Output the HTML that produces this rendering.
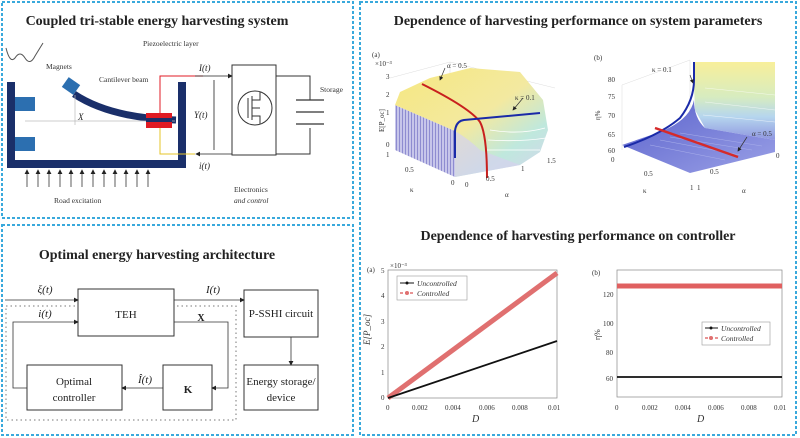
<!DOCTYPE html>
<html><head><meta charset="utf-8"><style>
html,body{margin:0;padding:0;background:#fff;}
svg{display:block;font-family:"Liberation Serif",serif;}
</style></head><body>
<svg width="800" height="438" viewBox="0 0 800 438" xmlns="http://www.w3.org/2000/svg">
<defs>
<marker id="ar" markerWidth="6" markerHeight="6" refX="5" refY="3" orient="auto"><path d="M0,0 L6,3 L0,6 z" fill="#222"/></marker>
<linearGradient id="ya" x1="0" y1="0" x2="1" y2="1"><stop offset="0" stop-color="#f6e880"/><stop offset="0.5" stop-color="#f3e9a0"/><stop offset="0.75" stop-color="#bfe8dd"/><stop offset="1" stop-color="#d6d3ee"/></linearGradient>
<linearGradient id="yb" x1="0" y1="0" x2="0" y2="1"><stop offset="0" stop-color="#f8ef9a"/><stop offset="0.45" stop-color="#d7ecc0"/><stop offset="0.7" stop-color="#b6d6ee"/><stop offset="1" stop-color="#8f96e0"/></linearGradient>
<linearGradient id="fb" x1="0" y1="0" x2="1" y2="1"><stop offset="0" stop-color="#5a62cc"/><stop offset="1" stop-color="#9aa0e6"/></linearGradient>
<pattern id="st" width="3" height="10" patternUnits="userSpaceOnUse"><rect width="3" height="10" fill="#c7c6ea"/><rect width="1" height="10" fill="#8e8cd0"/></pattern>
</defs>
<g fill="none" stroke="#39a9dc" stroke-width="2" stroke-dasharray="3,2">
<rect x="2" y="2" width="351" height="216"/>
<rect x="2" y="225" width="351" height="210"/>
<rect x="360" y="2" width="436" height="433"/>
</g>

<text x="157" y="25" font-size="14" font-weight="bold" text-anchor="middle" fill="#222">Coupled tri-stable energy harvesting system</text>
<path d="M6,48 Q10,64 15,58 Q20,50 25,58 Q30,66 35,56 L43,43" fill="none" stroke="#555" stroke-width="1"/>
<rect x="7" y="82" width="8" height="86" fill="#1a2f6a"/>
<rect x="7" y="160" width="179" height="8" fill="#1a2f6a"/>
<rect x="178" y="82" width="8" height="86" fill="#1a2f6a"/>
<rect x="15" y="97" width="20" height="14" fill="#2c6fb0"/>
<rect x="15" y="137" width="20" height="14" fill="#2c6fb0"/>
<path d="M74,94 Q110,118 176,120" fill="none" stroke="#1a2f6a" stroke-width="7"/>
<rect x="64" y="80" width="14" height="12" fill="#2c6fb0" transform="rotate(35 71 86)"/>
<line x1="25" y1="121" x2="175" y2="121" stroke="#bbb" stroke-width="0.7"/>
<line x1="75" y1="95" x2="75" y2="125" stroke="#bbb" stroke-width="0.7"/>
<rect x="146" y="113" width="26" height="15" fill="#e01b24"/>
<line x1="146" y1="120" x2="172" y2="120" stroke="#1a2f6a" stroke-width="4"/>
<polyline points="160,113 160,76 203,76" fill="none" stroke="#e01b24" stroke-width="1"/>
<polyline points="160,128 160,154 195,154" fill="none" stroke="#e6c42a" stroke-width="1"/>
<line x1="195" y1="76" x2="232" y2="76" stroke="#222" stroke-width="0.8" marker-end="url(#ar)"/>
<line x1="232" y1="154" x2="196" y2="154" stroke="#222" stroke-width="0.8" marker-end="url(#ar)"/>
<line x1="214" y1="80" x2="214" y2="150" stroke="#222" stroke-width="0.8"/>
<rect x="232" y="65" width="44" height="90" fill="none" stroke="#333" stroke-width="1"/>
<circle cx="255" cy="108" r="17" fill="none" stroke="#333" stroke-width="1"/>
<path d="M248,98 v20 M252,96 v24 M252,100 h8 v-8 M252,116 h8 v8 M252,108 h8" fill="none" stroke="#333" stroke-width="1"/>
<polyline points="276,76 310,76 310,100" fill="none" stroke="#333" stroke-width="1"/>
<polyline points="276,154 310,154 310,128" fill="none" stroke="#333" stroke-width="1"/>
<line x1="296" y1="100" x2="324" y2="100" stroke="#333" stroke-width="1.2"/>
<line x1="296" y1="112" x2="324" y2="112" stroke="#333" stroke-width="1.2"/>
<line x1="296" y1="124" x2="324" y2="124" stroke="#333" stroke-width="1.2"/>
<g stroke="#333" stroke-width="0.8">
<line x1="27" y1="187" x2="27" y2="170" marker-end="url(#ar)"/><line x1="38" y1="187" x2="38" y2="170" marker-end="url(#ar)"/><line x1="49" y1="187" x2="49" y2="170" marker-end="url(#ar)"/><line x1="60" y1="187" x2="60" y2="170" marker-end="url(#ar)"/><line x1="71" y1="187" x2="71" y2="170" marker-end="url(#ar)"/><line x1="82" y1="187" x2="82" y2="170" marker-end="url(#ar)"/><line x1="93" y1="187" x2="93" y2="170" marker-end="url(#ar)"/><line x1="104" y1="187" x2="104" y2="170" marker-end="url(#ar)"/><line x1="115" y1="187" x2="115" y2="170" marker-end="url(#ar)"/><line x1="126" y1="187" x2="126" y2="170" marker-end="url(#ar)"/><line x1="137" y1="187" x2="137" y2="170" marker-end="url(#ar)"/><line x1="148" y1="187" x2="148" y2="170" marker-end="url(#ar)"/>
</g>
<g font-size="7.5" fill="#333">
<text x="46" y="69">Magnets</text>
<text x="99" y="82">Cantilever beam</text>
<text x="143" y="46">Piezoelectric layer</text>
<text x="320" y="92">Storage</text>
<text x="54" y="203">Road excitation</text>
<text x="234" y="192">Electronics</text>
<text x="234" y="203" font-style="italic">and control</text>
</g>
<g font-size="9" font-style="italic" fill="#222">
<text x="78" y="120">X</text>
<text x="199" y="71">I(t)</text>
<text x="194" y="118">Y(t)</text>
<text x="199" y="169">i(t)</text>
</g>

<text x="157" y="259" font-size="14" font-weight="bold" text-anchor="middle" fill="#222">Optimal energy harvesting architecture</text>
<rect x="6" y="306" width="230" height="114" fill="none" stroke="#777" stroke-width="1" stroke-dasharray="1.5,3"/>
<g fill="#fff" stroke="#333" stroke-width="1">
<rect x="78" y="289" width="96" height="47"/>
<rect x="27" y="365" width="95" height="45"/>
<rect x="163" y="365" width="49" height="45"/>
<rect x="244" y="290" width="74" height="47"/>
<rect x="244" y="365" width="74" height="45"/>
</g>
<g fill="none" stroke="#333" stroke-width="0.8">
<line x1="5" y1="300" x2="78" y2="300" marker-end="url(#ar)"/>
<polyline points="27,388 13,388 13,322 78,322" marker-end="url(#ar)"/>
<line x1="174" y1="300" x2="244" y2="300" marker-end="url(#ar)"/>
<polyline points="174,322 228,322 228,388 212,388" marker-end="url(#ar)"/>
<line x1="163" y1="388" x2="122" y2="388" marker-end="url(#ar)"/>
<line x1="291" y1="337" x2="291" y2="365" marker-end="url(#ar)"/>
</g>
<g fill="#222" font-size="11" text-anchor="middle">
<text x="126" y="318">TEH</text>
<text x="281" y="317">P-SSHI circuit</text>
<text x="74" y="385">Optimal</text>
<text x="74" y="401">controller</text>
<text x="188" y="393" font-weight="bold">K</text>
<text x="281" y="385">Energy storage/</text>
<text x="281" y="401">device</text>
<text x="201" y="321" font-weight="bold" font-size="10">X</text>
<g font-style="italic" font-size="11"><text x="45" y="293">ξ(t)</text><text x="45" y="317">i(t)</text><text x="213" y="293">I(t)</text><text x="145" y="383">Î(t)</text></g>
</g>

<text x="578" y="25" font-size="14" font-weight="bold" text-anchor="middle" fill="#222">Dependence of harvesting performance on system parameters</text>
<g stroke="#ddd" stroke-width="0.5" fill="none"><line x1="390" y1="78" x2="450" y2="62"/><line x1="450" y1="62" x2="555" y2="88"/><line x1="450" y1="62" x2="450" y2="150"/></g>
<polygon points="395,105 455,131 455,177 395,150" fill="url(#st)"/>
<polygon points="395,105 400,92 430,78 470,68 520,72 543,100 548,130 540,152 520,165 455,177 455,131" fill="url(#ya)"/>
<path d="M455,131 Q470,140 480,150 L520,165 L455,177 z" fill="#d5d2ee" opacity="0.7"/>
<path d="M490,130 Q520,135 545,128 M488,140 Q520,142 546,138 M486,150 Q520,150 540,150" stroke="#fff" stroke-width="0.8" fill="none"/>
<path d="M422,84 Q470,108 480,122 Q487,135 487,178" fill="none" stroke="#c8201e" stroke-width="2"/>
<path d="M455,158 L455,131 Q456,121 464,120 L540,113" fill="none" stroke="#1a2aa8" stroke-width="2"/>
<line x1="445" y1="68" x2="440" y2="80" stroke="#333" stroke-width="0.7" marker-end="url(#ar)"/>
<line x1="523" y1="98" x2="513" y2="110" stroke="#333" stroke-width="0.7" marker-end="url(#ar)"/>
<g font-size="7" fill="#333">
<text x="372" y="57">(a)</text><text x="375" y="66">×10⁻³</text>
<text x="386" y="79">3</text><text x="386" y="97">2</text><text x="386" y="115">1</text><text x="386" y="147">0</text><text x="386" y="157">1</text>
<text x="447" y="68">α = 0.5</text><text x="515" y="100">κ = 0.1</text>
<text x="405" y="172">0.5</text><text x="410" y="192">κ</text><text x="451" y="185">0</text><text x="465" y="187">0</text>
<text x="486" y="181">0.5</text><text x="521" y="171">1</text><text x="547" y="163">1.5</text><text x="505" y="197">α</text>
<text x="384" y="132" transform="rotate(-90 384 132)">E[P_oc]</text>
</g>
<!-- 3D b -->
<g stroke="#ddd" stroke-width="0.5" fill="none"><line x1="622" y1="85" x2="690" y2="60"/><line x1="690" y1="60" x2="690" y2="125"/><line x1="622" y1="85" x2="622" y2="150"/></g>
<polygon points="693,62 775,62 775,140 705,128 695,110" fill="url(#yb)"/>
<path d="M622,145 L690,173 L775,152 L775,140 L705,128 Q694,118 694,100 Q690,120 660,132 Z" fill="url(#fb)"/>
<path d="M660,140 L740,155 M650,145 L725,160 M670,137 L752,150 M680,133 L762,146" stroke="#a8aeea" stroke-width="0.6"/>
<path d="M705,88 L775,95 M705,102 L775,110 M703,115 L775,122" stroke="#fff" stroke-width="0.5" opacity="0.7"/>
<path d="M624,147 Q660,135 680,118 Q694,100 694,80 L694,62" fill="none" stroke="#1a2aa8" stroke-width="2"/>
<line x1="655" y1="128" x2="738" y2="157" stroke="#d52a2a" stroke-width="2.5"/>
<line x1="690" y1="75" x2="693" y2="83" stroke="#333" stroke-width="0.7" marker-end="url(#ar)"/>
<line x1="747" y1="137" x2="738" y2="151" stroke="#333" stroke-width="0.7" marker-end="url(#ar)"/>
<g font-size="7" fill="#333">
<text x="594" y="60">(b)</text>
<text x="608" y="82">80</text><text x="608" y="99">75</text><text x="608" y="118">70</text><text x="608" y="137">65</text><text x="608" y="153">60</text><text x="611" y="162">0</text>
<text x="652" y="72">κ = 0.1</text><text x="752" y="136">α = 0.5</text>
<text x="644" y="176">0.5</text><text x="690" y="190">1</text><text x="697" y="190">1</text><text x="643" y="193">κ</text>
<text x="710" y="174">0.5</text><text x="776" y="158">0</text><text x="742" y="193">α</text>
<text x="600" y="120" transform="rotate(-90 600 120)">η%</text>
</g>

<text x="578" y="240" font-size="14" font-weight="bold" text-anchor="middle" fill="#222">Dependence of harvesting performance on controller</text>
<rect x="388" y="270" width="169" height="128" fill="#fff" stroke="#888" stroke-width="0.7"/>
<line x1="388" y1="398" x2="557" y2="273" stroke="#e07070" stroke-width="5"/>
<line x1="388" y1="398" x2="557" y2="341" stroke="#111" stroke-width="1.8"/>
<rect x="397" y="276" width="70" height="24" fill="#fff" stroke="#999" stroke-width="0.6"/>
<line x1="400" y1="283" x2="414" y2="283" stroke="#111" stroke-width="1"/><circle cx="407" cy="283" r="1.5" fill="#111"/>
<line x1="400" y1="293" x2="414" y2="293" stroke="#e07070" stroke-width="1.5" stroke-dasharray="3,2"/><circle cx="407" cy="293" r="2" fill="#e07070"/>
<g font-size="7.5" fill="#333" font-style="italic"><text x="417" y="286">Uncontrolled</text><text x="417" y="296">Controlled</text></g>
<g font-size="7" fill="#333">
<text x="367" y="272">(a)</text><text x="381" y="273">5</text><text x="381" y="298">4</text><text x="381" y="324">3</text><text x="381" y="349">2</text><text x="381" y="375">1</text><text x="381" y="400">0</text>
<text x="390" y="268">×10⁻³</text>
<text x="386" y="410">0</text><text x="412" y="410">0.002</text><text x="445" y="410">0.004</text><text x="479" y="410">0.006</text><text x="512" y="410">0.008</text><text x="548" y="410">0.01</text>
<text x="370" y="345" transform="rotate(-90 370 345)" font-size="9" font-style="italic">E[P_oc]</text>
</g>
<text x="472" y="422" font-size="10" font-style="italic" fill="#333">D</text>
<rect x="617" y="270" width="165" height="127" fill="#fff" stroke="#888" stroke-width="0.7"/>
<line x1="617" y1="286" x2="782" y2="286" stroke="#e06060" stroke-width="5"/>
<line x1="617" y1="377" x2="782" y2="377" stroke="#111" stroke-width="1.8"/>
<rect x="702" y="322" width="68" height="23" fill="#fff" stroke="#999" stroke-width="0.6"/>
<line x1="705" y1="328" x2="718" y2="328" stroke="#111" stroke-width="1"/><circle cx="711" cy="328" r="1.5" fill="#111"/>
<line x1="705" y1="338" x2="718" y2="338" stroke="#e07070" stroke-width="1.5" stroke-dasharray="3,2"/><circle cx="711" cy="338" r="2" fill="#e07070"/>
<g font-size="7.5" fill="#333" font-style="italic"><text x="721" y="331">Uncontrolled</text><text x="721" y="341">Controlled</text></g>
<g font-size="7" fill="#333">
<text x="592" y="275">(b)</text>
<text x="603" y="297">120</text><text x="603" y="326">100</text><text x="606" y="355">80</text><text x="606" y="381">60</text>
<text x="615" y="410">0</text><text x="642" y="410">0.002</text><text x="675" y="410">0.004</text><text x="708" y="410">0.006</text><text x="741" y="410">0.008</text><text x="774" y="410">0.01</text>
<text x="600" y="340" transform="rotate(-90 600 340)" font-size="8">η%</text>
</g>
<text x="697" y="422" font-size="10" font-style="italic" fill="#333">D</text>
</svg>
</body></html>
